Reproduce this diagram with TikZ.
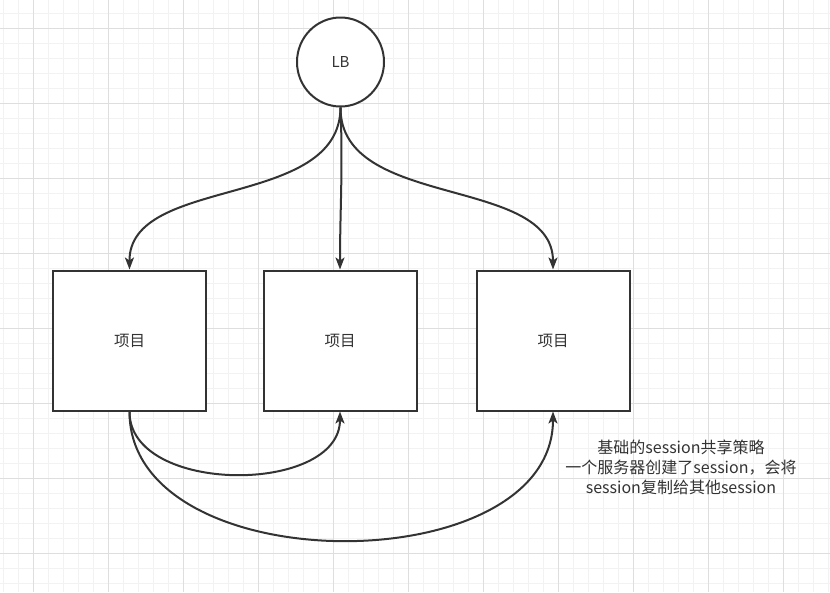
\documentclass[tikz,border=0pt]{standalone}
\usepackage{fontspec}
\setmainfont{Noto Sans CJK SC}
\usetikzlibrary{arrows.meta}
\definecolor{ink}{HTML}{333333}
\definecolor{gmin}{HTML}{F2F2F2}
\definecolor{gmaj}{HTML}{DEDEDE}
\tikzset{
  box/.style={draw=ink,line width=2pt,fill=white,minimum width=153pt,minimum height=140pt,inner sep=0pt,font=\fontsize{15.5}{17}\selectfont,text=ink},
  lbnode/.style={draw=ink,line width=2pt,fill=white,ellipse,minimum width=87pt,minimum height=89pt,inner sep=0pt,font=\fontsize{15}{17}\selectfont,text=ink},
  conn/.style={draw=ink,line width=2pt,-{Stealth[length=12pt,width=9pt,inset=3pt]}},
  note/.style={align=center,font=\fontsize{16}{20}\selectfont,text=ink}
}
\usetikzlibrary{shapes.geometric}
\begin{document}
\begin{tikzpicture}[x=1pt,y=-1pt]
\useasboundingbox (0,0) rectangle (830,592);
\fill[white] (0,0) rectangle (830,592);
\foreach \i in {0,...,55} {
  \draw[gmin,line width=1pt] (3+15*\i,0) -- (3+15*\i,592);
}
\foreach \i in {0,...,39} {
  \draw[gmin,line width=1pt] (0,-2+15*\i) -- (830,-2+15*\i);
}
\foreach \i in {0,...,11} {
  \draw[gmaj,line width=1pt] (33+75*\i,0) -- (33+75*\i,592);
}
\foreach \i in {0,...,7} {
  \draw[gmaj,line width=1pt] (0,28+75*\i) -- (830,28+75*\i);
}
\node[lbnode] (lb) at (340.5,62) {LB};
\node[box] (p1) at (129.5,340.5) {项目};
\node[box] (p2) at (340,340.5) {项目};
\node[box] (p3) at (553,340.5) {项目};
\coordinate (lbs) at (lb.south);
\draw[conn] (lbs) .. controls (340,210) and (129,175) .. (p1.north);
\draw[conn] (lbs) .. controls (343,170) and (340,210) .. (p2.north);
\draw[conn] (lbs) .. controls (340,210) and (553,175) .. (p3.north);
\draw[conn] (p1.south) .. controls (129,495) and (340,495) .. (p2.south);
\draw[conn] (p1.south) .. controls (129,583) and (553,583) .. (p3.south);
\node[note] (txt) at (681,467) {基础的session共享策略\\一个服务器创建了session，会将\\session复制给其他session};
\end{tikzpicture}
\end{document}
